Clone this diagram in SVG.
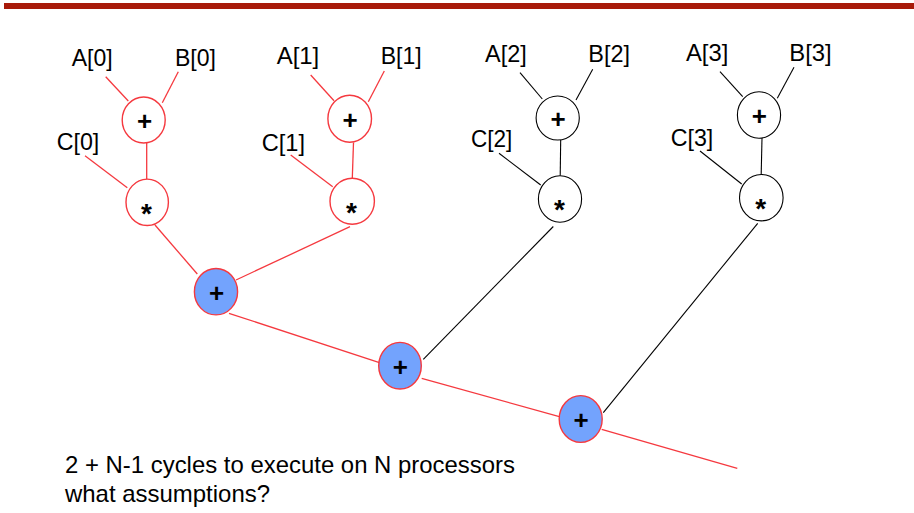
<svg xmlns="http://www.w3.org/2000/svg" width="914" height="513" viewBox="0 0 914 513">
<style>
  .lbl { font-family: "Liberation Sans", Arial, sans-serif; font-size: 24px; fill: #000; }
  .op { font-family: "Liberation Sans", Arial, sans-serif; font-size: 26px; font-weight: bold; fill: #000; text-anchor: middle; }
  .star { font-family: "Liberation Sans", Arial, sans-serif; font-size: 28px; font-weight: bold; fill: #000; text-anchor: middle; }
  .red { stroke: #F5393F; stroke-width: 1.3; fill: none; }
  .blk { stroke: #000; stroke-width: 1.1; fill: none; }
  .nred { fill: #fff; stroke: #F5393F; stroke-width: 1.4; }
  .nblk { fill: #fff; stroke: #000; stroke-width: 1.1; }
  .nsum { fill: #73A3FD; stroke: #F5393F; stroke-width: 1.4; }
  .note { font-family: "Liberation Sans", Arial, sans-serif; font-size: 24px; fill: #000; }
</style>
<rect x="0" y="0" width="914" height="513" fill="#fff"/>
<rect x="4" y="3" width="910" height="6" fill="#A81A0A"/>

<g id="connectors">
  <line class="red" x1="105.7" y1="76.7" x2="128.3" y2="101"/>
  <line class="red" x1="178.3" y1="71.7" x2="162.3" y2="102.7"/>
  <line class="red" x1="146.7" y1="143" x2="146.7" y2="179"/>
  <line class="red" x1="85" y1="155.7" x2="127.3" y2="187.7"/>
  <line class="red" x1="155" y1="225" x2="197.3" y2="274"/>

  <line class="red" x1="310.7" y1="75" x2="334" y2="100.7"/>
  <line class="red" x1="384.3" y1="71" x2="368.3" y2="101.7"/>
  <line class="red" x1="353.5" y1="142.4" x2="352.3" y2="178.3"/>
  <line class="red" x1="290.7" y1="155" x2="332.7" y2="186.7"/>
  <line class="red" x1="350" y1="226.7" x2="236" y2="280"/>

  <line class="blk" x1="520" y1="72.7" x2="542.3" y2="99"/>
  <line class="blk" x1="592.7" y1="69.3" x2="576" y2="100"/>
  <line class="blk" x1="560.7" y1="140" x2="560.2" y2="175.7"/>
  <line class="blk" x1="499" y1="153.3" x2="540.7" y2="185"/>
  <line class="blk" x1="553.3" y1="226.5" x2="423.3" y2="359.3"/>

  <line class="blk" x1="720" y1="71.7" x2="742.7" y2="96.7"/>
  <line class="blk" x1="794" y1="67.3" x2="777.3" y2="98.3"/>
  <line class="blk" x1="762" y1="138.3" x2="761.2" y2="174.3"/>
  <line class="blk" x1="700" y1="151" x2="741.7" y2="184"/>
  <line class="blk" x1="757.7" y1="223.3" x2="603.3" y2="412.7"/>

  <line class="red" x1="229" y1="313.3" x2="381.7" y2="363.3"/>
  <line class="red" x1="421.7" y1="378.3" x2="559.3" y2="416.7"/>
  <line class="red" x1="601.7" y1="429.3" x2="737.3" y2="468.3"/>
</g>

<g id="labels">
  <text class="lbl" x="71.7" y="65.5" textLength="41" lengthAdjust="spacingAndGlyphs">A[0]</text>
  <text class="lbl" x="175" y="65.5" textLength="41" lengthAdjust="spacingAndGlyphs">B[0]</text>
  <text class="lbl" x="56.7" y="149.5" textLength="42.6" lengthAdjust="spacingAndGlyphs">C[0]</text>
  <text class="lbl" x="276.7" y="63.8" textLength="42.6" lengthAdjust="spacingAndGlyphs">A[1]</text>
  <text class="lbl" x="380.7" y="63.8" textLength="41" lengthAdjust="spacingAndGlyphs">B[1]</text>
  <text class="lbl" x="261.7" y="150.5" textLength="43.3" lengthAdjust="spacingAndGlyphs">C[1]</text>
  <text class="lbl" x="485" y="62.2" textLength="41.7" lengthAdjust="spacingAndGlyphs">A[2]</text>
  <text class="lbl" x="588.3" y="62.2" textLength="41.7" lengthAdjust="spacingAndGlyphs">B[2]</text>
  <text class="lbl" x="471" y="147.2" textLength="41.3" lengthAdjust="spacingAndGlyphs">C[2]</text>
  <text class="lbl" x="686" y="60.5" textLength="42.3" lengthAdjust="spacingAndGlyphs">A[3]</text>
  <text class="lbl" x="789.3" y="60.5" textLength="42.4" lengthAdjust="spacingAndGlyphs">B[3]</text>
  <text class="lbl" x="670.7" y="145.5" textLength="42.6" lengthAdjust="spacingAndGlyphs">C[3]</text>
</g>

<g id="add0"><ellipse class="nred" cx="143.7" cy="120" rx="21.5" ry="23"/><text class="op" x="144.5" y="130">+</text></g>
<g id="mul0"><ellipse class="nred" cx="147.2" cy="202.3" rx="21.2" ry="23.2"/><text class="star" x="146.5" y="222.5">*</text></g>
<g id="add1"><ellipse class="nred" cx="349.7" cy="118.7" rx="21.8" ry="23.5"/><text class="op" x="350.2" y="128.7">+</text></g>
<g id="mul1"><ellipse class="nred" cx="352.2" cy="201.3" rx="22.2" ry="23"/><text class="star" x="351.5" y="221.5">*</text></g>
<g id="add2"><ellipse class="nblk" cx="557.7" cy="118" rx="21.6" ry="22"/><text class="op" x="558" y="128">+</text></g>
<g id="mul2"><ellipse class="nblk" cx="560" cy="199" rx="21.6" ry="23.2"/><text class="star" x="559.5" y="219.2">*</text></g>
<g id="add3"><ellipse class="nblk" cx="759" cy="115" rx="21.6" ry="23.2"/><text class="op" x="759.3" y="125">+</text></g>
<g id="mul3"><ellipse class="nblk" cx="761.3" cy="197.7" rx="21.8" ry="23.2"/><text class="star" x="760.8" y="218">*</text></g>

<g id="sum1"><ellipse class="nsum" cx="216" cy="291.7" rx="21.6" ry="23.2"/><text class="op" x="216.7" y="301.5">+</text></g>
<g id="sum2"><ellipse class="nsum" cx="400" cy="365.7" rx="21.3" ry="23.3"/><text class="op" x="400.3" y="375.5">+</text></g>
<g id="sum3"><ellipse class="nsum" cx="580.7" cy="419" rx="21.5" ry="23.4"/><text class="op" x="581" y="428.8">+</text></g>

<g id="note">
  <text class="note" x="65" y="473" textLength="450" lengthAdjust="spacingAndGlyphs">2 + N-1 cycles to execute on N processors</text>
  <text class="note" x="65" y="502" textLength="205" lengthAdjust="spacingAndGlyphs">what assumptions?</text>
</g>
</svg>
